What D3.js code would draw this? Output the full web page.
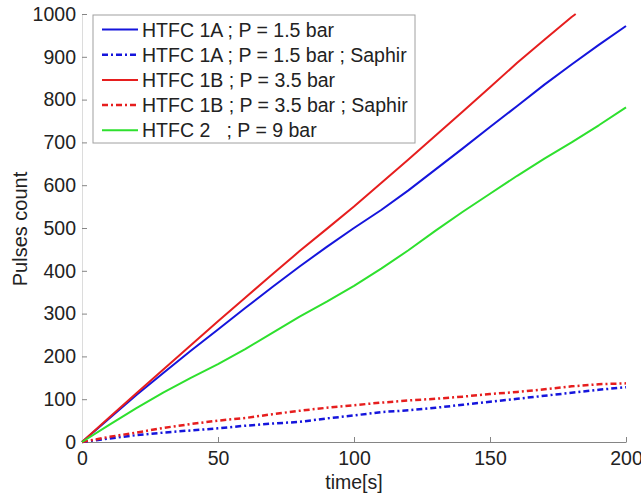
<!DOCTYPE html>
<html><head><meta charset="utf-8">
<script src="https://cdn.jsdelivr.net/npm/d3@7"></script>
<style>
body{margin:0;background:#fff;}
svg{display:block;font-family:"Liberation Sans",Arial,sans-serif;}
</style></head>
<body>
<svg id="c" width="641" height="494"></svg>
<script>
const xTicks = [0, 50, 100, 150, 200];
const yTicks = [0, 100, 200, 300, 400, 500, 600, 700, 800, 900, 1000];
const times = [0,10,20,30,40,50,60,70,80,90,100,110,120,130,140,150,160,170,180,190,200];
const htfc1A = [0,55,110,162,213,263,313,362,410,456,500,542,588,637,686,736,785,835,882,928,972];
const htfc1ASaphir = [0,8,16,22,27,32,38,43,47,55,62,70,74,80,87,94,101,108,115,122,128];
const timesRed = [0,10,20,30,40,50,60,70,80,90,100,110,120,130,140,150,160,170,180,181.5];
const htfc1B = [0,57,114,170,226,282,337,392,446,498,550,605,660,716,772,829,886,940,993,1000];
const htfc1BSaphir = [0,12,22,33,42,50,56,65,73,80,86,92,97,101,106,112,117,123,130,135,137];
const htfc2 = [0,40,79,116,150,182,217,255,293,328,365,405,448,494,538,580,622,662,700,740,782];
const seriesNames = ["HTFC 1A ; P = 1.5 bar","HTFC 1A ; P = 1.5 bar ; Saphir","HTFC 1B ; P = 3.5 bar","HTFC 1B ; P = 3.5 bar ; Saphir","HTFC 2   ; P = 9 bar"];

const blue="#1515dc", red="#e61e1e", green="#2ee02e";
const series = [
  {name:seriesNames[0], t:times, v:htfc1A, color:blue, dash:null, w:2},
  {name:seriesNames[1], t:times, v:htfc1ASaphir, color:blue, dash:"6,3,2,3", w:2.5},
  {name:seriesNames[2], t:timesRed, v:htfc1B, color:red, dash:null, w:2},
  {name:seriesNames[3], t:times, v:htfc1BSaphir, color:red, dash:"6,3,2,3", w:2.5},
  {name:seriesNames[4], t:times, v:htfc2, color:green, dash:null, w:2}
];

const svg = d3.select("#c");
const x = d3.scaleLinear().domain([0,200]).range([82,626]);
const y = d3.scaleLinear().domain([0,1000]).range([442,14]);
const fs = "19.5px";
const ff = "Liberation Sans, Arial, sans-serif";

// axes
const gx = svg.append("g").attr("transform","translate(0,442)")
  .call(d3.axisBottom(x).tickValues(xTicks).tickFormat(d3.format("d")).tickSizeInner(-5).tickSizeOuter(0).tickPadding(9));
gx.select(".domain").attr("stroke","#858585");
gx.selectAll(".tick line").attr("stroke","#858585");
gx.selectAll(".tick text").attr("font-size",fs).attr("fill","#222").attr("font-family",ff);

const gy = svg.append("g").attr("transform","translate(82,0)")
  .call(d3.axisLeft(y).tickValues(yTicks).tickFormat(d3.format("d")).tickSizeInner(-5).tickSizeOuter(0).tickPadding(6));
gy.select(".domain").attr("stroke","#dcdcdc");
gy.selectAll(".tick line").attr("stroke","#858585");
gy.selectAll(".tick text").attr("font-size",fs).attr("fill","#222").attr("font-family",ff);

// lines
const line = d3.line().x(d=>x(d[0])).y(d=>y(d[1]));
series.forEach(s=>{
  const pts = s.t.map((t,i)=>[t,s.v[i]]);
  svg.append("path").datum(pts).attr("d",line).attr("fill","none")
    .attr("stroke",s.color).attr("stroke-width",s.w)
    .attr("stroke-dasharray",s.dash).attr("stroke-linejoin","round");
});

// axis titles
svg.append("text").attr("x",354).attr("y",489).attr("text-anchor","middle")
  .attr("font-size",fs).attr("fill","#222").text("time[s]");
svg.append("text").attr("transform","translate(27,229) rotate(-90)").attr("text-anchor","middle")
  .attr("font-size","20px").attr("fill","#222").text("Pulses count");

// legend
const lg = svg.append("g");
lg.append("rect").attr("x",93).attr("y",15).attr("width",322).attr("height",128)
  .attr("fill","#fff").attr("stroke","#a0a0a0").attr("stroke-width",1);
series.forEach((s,i)=>{
  const yy = 29.5 + i*25.2;
  lg.append("line").attr("x1",102).attr("x2",138).attr("y1",yy).attr("y2",yy)
    .attr("stroke",s.color).attr("stroke-width",s.w).attr("stroke-dasharray",s.dash);
  lg.append("text").attr("x",142).attr("y",yy).attr("dy","0.36em")
    .attr("font-size",fs).attr("fill","#222").style("white-space","pre").text(s.name);
});
</script>
</body></html>
